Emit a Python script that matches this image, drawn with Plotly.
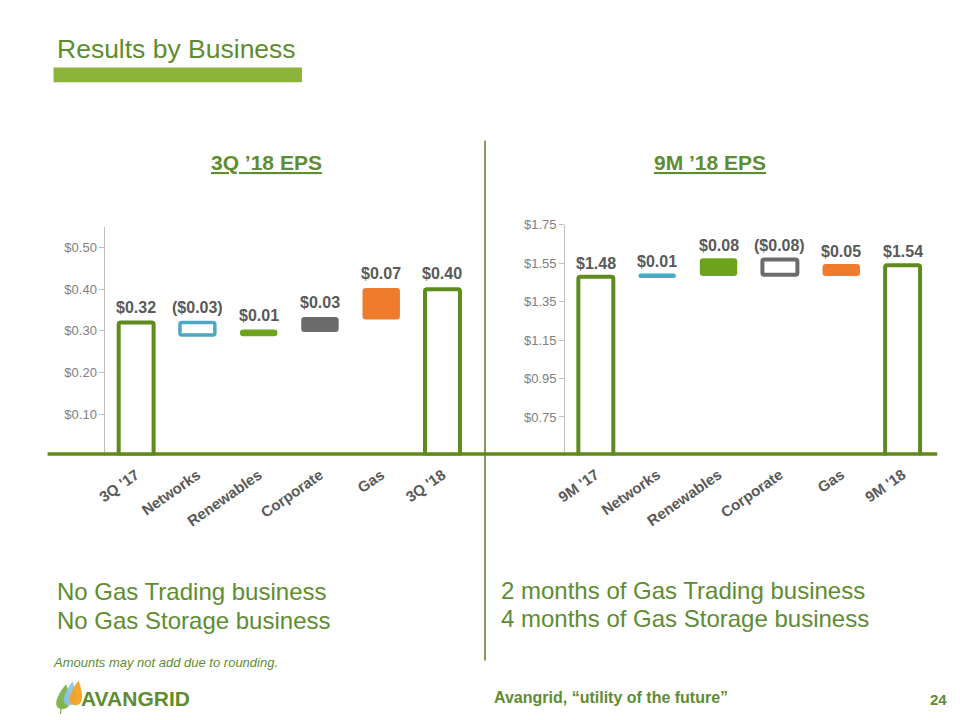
import plotly.graph_objects as go

# ---------------- data ----------------
left_cats = ["3Q '17", "Networks", "Renewables", "Corporate", "Gas", "3Q '18"]
left_start = 0.32
left_deltas = [-0.03, 0.01, 0.03, 0.07]
left_end = 0.40
left_ticks = [0.10, 0.20, 0.30, 0.40, 0.50]

right_cats = ["9M '17", "Networks", "Renewables", "Corporate", "Gas", "9M '18"]
right_start = 1.48
right_deltas = [0.01, 0.08, -0.08, 0.05]
right_end = 1.54
right_ticks = [0.75, 0.95, 1.15, 1.35, 1.55, 1.75]

# styles per bar
left_fill = ["white", "white", "#6ea31c", "#6b6b6b", "#ef7b2d", "white"]
left_line = ["#5f8a1e", "#4aa8c4", "#6ea31c", "#6b6b6b", "#ef7b2d", "#5f8a1e"]
left_lw = [4, 3.5, 2.5, 2.5, 2.5, 4]
right_fill = ["white", "#4aa8c4", "#6ea31c", "white", "#ef7b2d", "white"]
right_line = ["#5f8a1e", "#4aa8c4", "#6ea31c", "#6b6b6b", "#ef7b2d", "#5f8a1e"]
right_lw = [4, 2.5, 2.5, 4, 2.5, 4]

GREEN = "#5e8c31"
DARK = "#595959"
FONT = "Arial, Liberation Sans, sans-serif"


def px(v):
    return v / 960.0


def py(v):
    return 1 - v / 720.0


def waterfall(start, deltas, end):
    bases, vals, labels = [0], [start], [start]
    level = start
    for d in deltas:
        bases.append(level)
        vals.append(d)
        labels.append(d)
        level += d
    bases.append(0)
    vals.append(end)
    labels.append(end)
    tops = [max(b, b + v) for b, v in zip(bases, vals)]
    return bases, vals, labels, tops


def fmt(v):
    return f"(${abs(v):.2f})" if v < 0 else f"${v:.2f}"


fig = go.Figure()

annos = []
for cats, start, deltas, end, fills, lines, lws, xa, ya, shift in [
    (left_cats, left_start, left_deltas, left_end, left_fill, left_line, left_lw, "x", "y", 5),
    (right_cats, right_start, right_deltas, right_end, right_fill, right_line, right_lw, "x2", "y2", 3),
]:
    bases, vals, labels, tops = waterfall(start, deltas, end)
    fig.add_trace(go.Bar(
        x=cats, y=vals, base=bases, width=0.57,
        marker=dict(color=fills, line=dict(color=lines, width=lws), cornerradius=2),
        xaxis=xa, yaxis=ya, showlegend=False, hoverinfo="skip",
    ))
    for c, t, lab in zip(cats, tops, labels):
        annos.append(dict(
            x=c, y=t, xref=xa, yref=ya, text=f"<b>{fmt(lab)}</b>", showarrow=False,
            yanchor="bottom", yshift=shift, font=dict(family=FONT, size=16, color=DARK),
        ))

axis_y = dict(
    showline=True, linecolor="#bfbfbf", linewidth=1, ticks="outside", ticklen=5,
    tickcolor="#bfbfbf", tickformat="$.2f", showgrid=False, zeroline=False,
    tickfont=dict(family=FONT, size=13, color="#808080"), fixedrange=True,
)
axis_x = dict(
    showline=False, showgrid=False, zeroline=False, ticks="", tickangle=-35,
    tickfont=dict(family=FONT, size=15, color=DARK, weight="bold"), range=[-0.5, 5.5],
    ticklabelstandoff=7,
)

fig.update_layout(
    width=960, height=720, margin=dict(l=0, r=0, t=0, b=0),
    paper_bgcolor="white", plot_bgcolor="white",
    xaxis=dict(axis_x, domain=[px(96.5), px(468)], anchor="y"),
    yaxis=dict(axis_y, domain=[py(453), py(222)], range=[0, 0.55], tickvals=left_ticks, anchor="x"),
    xaxis2=dict(axis_x, domain=[px(561), px(933)], anchor="y2"),
    yaxis2=dict(axis_y, domain=[py(452.8), py(220)], range=[0.55, 1.75], tickvals=right_ticks, anchor="x2"),
)

# ---------------- slide text ----------------
def txt(text, x, y, size, color=GREEN, xanchor="left", **font_kw):
    annos.append(dict(
        x=px(x), y=py(y), xref="paper", yref="paper", text=text, showarrow=False,
        xanchor=xanchor, yanchor="middle", font=dict(family=FONT, size=size, color=color, **font_kw),
    ))

txt("Results by Business", 45, 42, 26.5)
txt("<b><u>3Q ’18 EPS</u></b>", 259, 157, 21, xanchor="center")
txt("<b><u>9M ’18 EPS</u></b>", 707, 157, 21, xanchor="center")
txt("No Gas Trading business", 45, 590, 24)
txt("No Gas Storage business", 45, 620, 24)
txt("2 months of Gas Trading business", 494, 589, 24)
txt("4 months of Gas Storage business", 494, 618, 24)
txt("<i>Amounts may not add due to rounding.</i>", 41, 662, 13)
txt("<b>Avangrid, “utility of the future”</b>", 487, 697, 16)
txt("<b>24</b>", 938, 699, 15, xanchor="center")
txt("<b>AVANGRID</b>", 70, 698, 21)

fig.update_layout(annotations=annos)

# ---------------- shapes ----------------
shapes = [
    dict(type="rect", xref="paper", yref="paper", x0=px(44), x1=px(295), y0=py(76), y1=py(61),
         fillcolor="#8cb33a", line=dict(width=0), layer="below"),
    dict(type="line", xref="paper", yref="paper", x0=px(480), x1=px(480), y0=py(135), y1=py(660),
         line=dict(color="#5b7a2e", width=1.5)),
    dict(type="line", xref="paper", yref="paper", x0=px(38), x1=px(937), y0=py(451.5), y1=py(451.5),
         line=dict(color="#5f8a1e", width=3.5)),
]


def leaf(cx, top, bottom, w, color):
    mid = bottom - (bottom - top) * 0.4
    path = (f"M {px(cx)},{py(bottom)} "
            f"C {px(cx - w)},{py(bottom)} {px(cx - w)},{py(mid)} {px(cx + w * 0.4)},{py(top)} "
            f"C {px(cx + w * 1.1)},{py(mid)} {px(cx + w)},{py(bottom)} {px(cx)},{py(bottom)} Z")
    return dict(type="path", xref="paper", yref="paper", path=path, fillcolor=color,
                line=dict(width=0), opacity=0.92)


shapes += [
    leaf(53, 684, 709, 9, "#78b043"),
    leaf(60, 681, 705, 8, "#8cc4e8"),
    leaf(66, 680, 705, 8, "#f4a11e"),
    dict(type="line", xref="paper", yref="paper", x0=px(52), x1=px(51), y0=py(704), y1=py(714),
         line=dict(color="#78b043", width=1.2)),
]
fig.update_layout(shapes=shapes)

fig.write_html("out.html")
